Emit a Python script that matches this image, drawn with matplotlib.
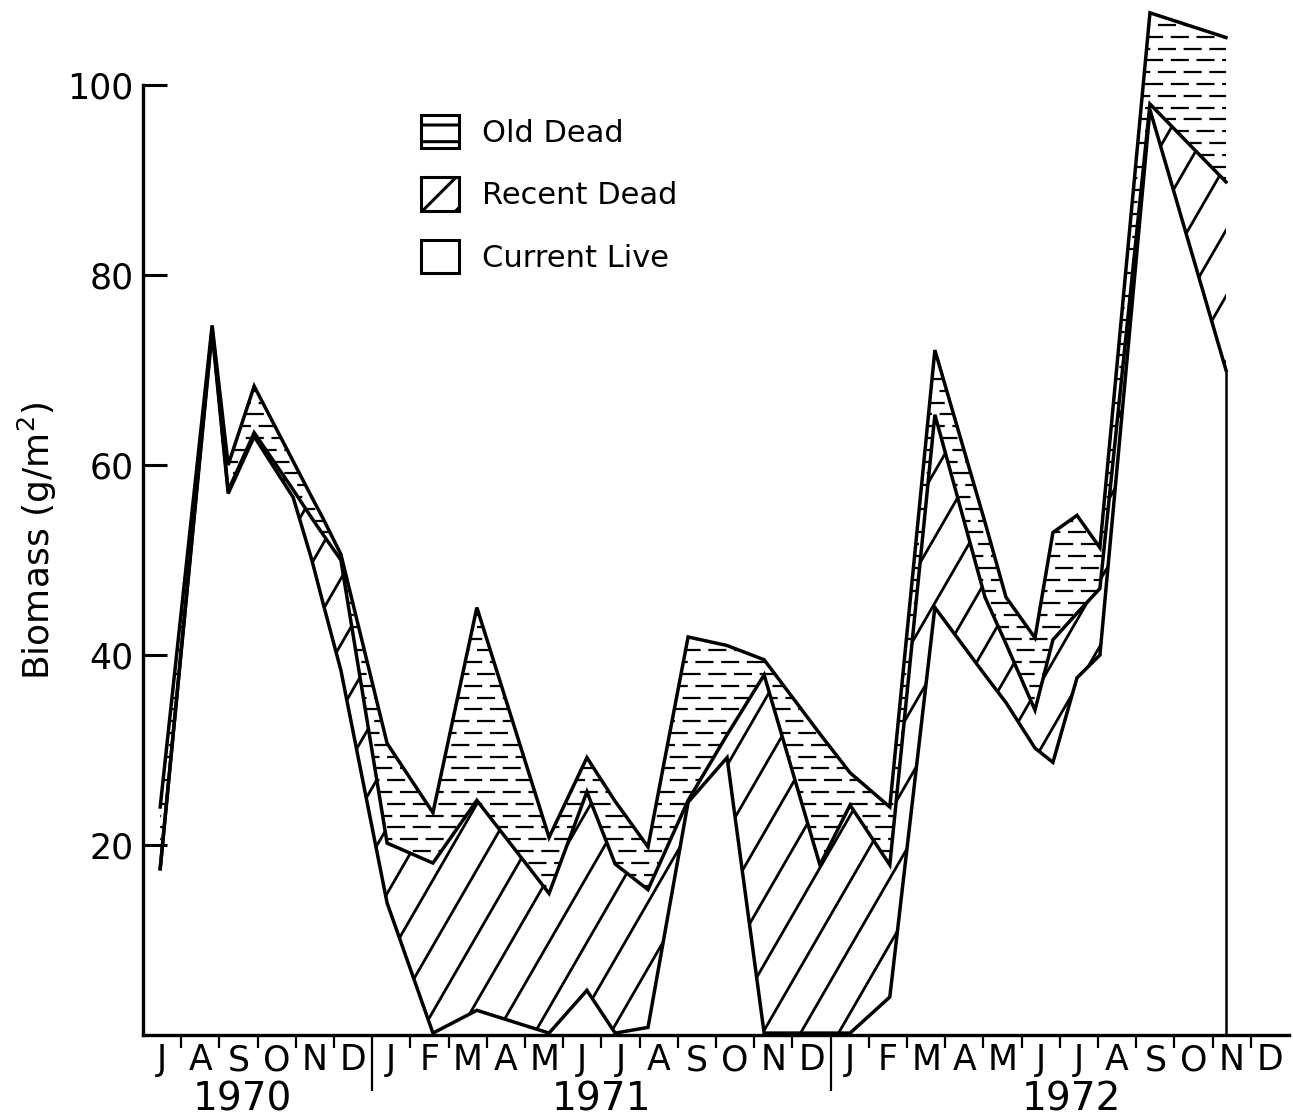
import numpy as np
import matplotlib
matplotlib.use("Agg")
import matplotlib.pyplot as plt
from matplotlib.patches import Patch
from matplotlib.collections import LineCollection
from matplotlib.path import Path

plt.rcParams['font.family'] = ['DejaVu Sans']
plt.rcParams['hatch.linewidth'] = 2.2
plt.rcParams['lines.scale_dashes'] = False

# Sampling dates, in months after 1 July 1970
sample_month = [0.45, 1.81, 2.23, 2.91, 3.93, 4.42, 4.71, 5.18, 6.39, 7.59,
                8.74, 10.63, 11.62, 12.36, 13.22, 14.27, 15.29, 16.26, 17.72, 18.51,
                19.55, 20.73, 22.04, 22.59, 23.35, 23.82, 24.45, 25.05, 26.36, 28.35]

# Standing crop components, g/m^2
current_live = [17.5, 74.0, 57.0, 63.0, 56.6, 50.0, 45.5, 38.4, 13.9, 0.2,
                2.6, 0.2, 4.7, 0.2, 0.8, 24.5, 29.2, 0.2, 0.2, 0.2,
                4.0, 45.0, 37.9, 35.0, 30.2, 28.7, 37.6, 40.0, 97.4, 70.0]
recent_dead = [0.0, 0.4, 0.3, 0.4, 0.8, 4.4, 7.2, 11.6, 6.3, 17.9,
               22.1, 14.7, 20.9, 17.8, 14.5, 0.2, 2.4, 37.7, 17.7, 24.0,
               13.9, 20.3, 8.2, 6.2, 4.0, 12.9, 6.8, 7.0, 0.6, 19.8]
old_dead = [6.5, 0.3, 2.7, 4.9, 3.0, 2.2, 1.7, 0.6, 10.5, 5.3,
            20.3, 5.9, 3.6, 6.6, 4.5, 17.2, 9.4, 1.6, 13.8, 3.4,
            6.1, 6.8, 7.9, 4.9, 7.6, 11.3, 10.3, 4.3, 9.6, 15.2]

month_letters = list("JASOND") + list("JFMAMJJASOND") * 2
year_labels = ["1970", "1971", "1972"]
year_label_month = [2.6, 12.0, 24.3]
year_breaks = [6, 18]
ytick_values = [20, 40, 60, 80, 100]
legend_labels = ["Old Dead", "Recent Dead", "Current Live"]

months = np.array(sample_month)
live = np.array(current_live)
recent_top = live + np.array(recent_dead)
total_top = recent_top + np.array(old_dead)

FIG_W, FIG_H = 1293, 1118
AX_L, AX_B, AX_W, AX_H = 143, 83, 1146, 1035

fig = plt.figure(figsize=(FIG_W / 100, FIG_H / 100), dpi=100, facecolor='white')
ax = fig.add_axes([AX_L / FIG_W, AX_B / FIG_H, AX_W / FIG_W, AX_H / FIG_H])
ax.set_xlim(0, 30)
ax.set_ylim(0, 108.95)


def region_clip(coll):
    return Path.make_compound_path(*coll.get_paths())


def dash_hatch(clip, spacing=11.8, on=13.0, off=5.5, lw=1.6):
    ys = np.arange(spacing * 0.6, AX_H, spacing) / AX_H
    for parity in (0, 1):
        segs = [[(0, y), (1, y)] for y in ys[parity::2]]
        lc = LineCollection(segs, colors='black', linewidths=lw,
                            linestyles=[(parity * (on + off) / 2, (on, off))],
                            transform=ax.transAxes, zorder=2)
        lc.set_clip_path(clip, ax.transData)
        ax.add_collection(lc)


def slant_hatch(clip, spacing=38.0, angle=60.0, lw=2.0):
    run = AX_H / np.tan(np.radians(angle))
    x0s = np.arange(-run, AX_W + spacing, spacing)
    segs = [[(x / AX_W, 0), ((x + run) / AX_W, 1)] for x in x0s]
    lc = LineCollection(segs, colors='black', linewidths=lw,
                        transform=ax.transAxes, zorder=2)
    lc.set_clip_path(clip, ax.transData)
    ax.add_collection(lc)


old_fill = ax.fill_between(months, recent_top, total_top, facecolor='none', linewidth=0)
recent_fill = ax.fill_between(months, live, recent_top, facecolor='none', linewidth=0)
dash_hatch(region_clip(old_fill))
slant_hatch(region_clip(recent_fill))

for top in (total_top, recent_top, live):
    ax.plot(months, top, color='black', lw=2.5, solid_joinstyle='miter',
            zorder=3, clip_on=False)
ax.vlines(months[-1], 0, live[-1], color='black', lw=1.8, zorder=3)

# axes frame
for side in ('top', 'right'):
    ax.spines[side].set_visible(False)
ax.spines['left'].set_bounds(0, 100)
ax.spines['left'].set_linewidth(2.4)
ax.spines['bottom'].set_linewidth(2.4)

ax.set_yticks(ytick_values)
ax.tick_params(axis='y', direction='in', length=17, width=2.2, labelsize=25, pad=7)
ax.set_ylabel("Biomass (g/m$^2$)", fontsize=26)
ax.yaxis.set_label_coords(-0.092, 0.477)
ax.yaxis.label.set_va('center')

ax.set_xticks(np.arange(30) + 0.5, month_letters)
ax.tick_params(axis='x', which='major', length=0, labelsize=25, pad=6)
ax.set_xticks([b for b in range(1, 30) if b not in year_breaks], minor=True)
ax.tick_params(axis='x', which='minor', direction='out', length=9.5, width=1.6)

sep = ax.secondary_xaxis('bottom')
sep.set_xticks(year_breaks, ['' for _ in year_breaks])
sep.tick_params(length=40, width=1.6, direction='out')
sep.spines['bottom'].set_visible(False)

yrs = ax.secondary_xaxis('bottom')
yrs.set_xticks(year_label_month, year_labels)
yrs.tick_params(length=0, labelsize=28, pad=33)
yrs.spines['bottom'].set_visible(False)

handles = [Patch(facecolor='white', edgecolor='black', hatch='-', linewidth=2.2),
           Patch(facecolor='white', edgecolor='black', hatch='/', linewidth=2.2),
           Patch(facecolor='white', edgecolor='black', linewidth=2.2)]
ax.legend(handles, legend_labels, loc='upper left',
          bbox_to_anchor=(421 / FIG_W, 1 - 115 / FIG_H), bbox_transform=fig.transFigure,
          frameon=False, fontsize=22, handlelength=1.25, handleheight=1.3,
          handletextpad=0.75, labelspacing=0.95, borderpad=0, borderaxespad=0)

fig.savefig('out.png', dpi=100, facecolor='white')
